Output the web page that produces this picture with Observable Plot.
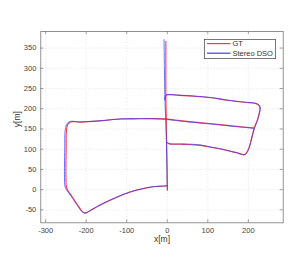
<!DOCTYPE html>
<html><head><meta charset="utf-8">
<script src="https://cdn.jsdelivr.net/npm/d3@7"></script>
<script src="https://cdn.jsdelivr.net/npm/@observablehq/plot@0.6"></script>
<style>
body{margin:0;background:#fff;font-family:"Liberation Sans",Arial,sans-serif}
#wrap{position:relative;width:305px;height:273px}
#legend{position:absolute;left:203.5px;top:39.3px}
</style></head><body><div id="wrap"></div><script>
const seriesNames = ["GT", "Stereo DSO"];
const seriesColors = ["#ff3c3c", "#3c3cff"];
const xTicks = [-300, -200, -100, 0, 100, 200];
const yTicks = [-50, 0, 50, 100, 150, 200, 250, 300, 350];
const xDomain = [-312, 286];
const yDomain = [-82, 391];

// Ground truth trajectory, segments
const gtSeg = [
  0,0,0,0,0,0,0,0,
  1,1,1,1,1,1,1,1,1,1,1,1,1,1,1,1,1,1,1,1,1,1,1,1,1,1,
  2,2,2,2,2,2,2,
  3,3,3,3,3,3,3,3,3,3,3,3,3,3,3,3,3,3,3,3,3,3,3,3,3,3,3,3
];
const gtX = [
  0, 0, -0.5, -1.5, -2.5, -3.5, -3.5, -3.5,
  -1, -6, -20, -41, -65, -91, -124, -165, -195, -202, -209, -217, -235, -246, -249, -250, -249.5, -248.5, -245, -239, -215, -165, -115, -82, -40, -3,
  -3, 20, 66, 110, 148, 182, 214,
  -5, -4, 1, 30, 66, 110, 148, 190, 218, 225, 228.5, 227, 222, 214, 208, 202, 196.5, 191, 185, 172, 150, 132, 110, 82, 40, 5, 0, -1.5
];
const gtY = [
  -1, 10, 60, 113, 175, 232, 300, 367,
  10, 9, 8, 6, 1, -6, -19, -38, -55, -58, -55, -44, -17, -1, 8, 30, 100, 148, 162, 167.5, 167, 170, 174.5, 175, 175.5, 175,
  175, 172, 167, 163, 159, 155.5, 152,
  222, 231, 234.5, 233, 231, 227, 221, 216, 213, 209, 203, 190, 172, 151, 128, 105, 93, 87, 87, 91, 96, 100.5, 104, 109.5, 112, 113, 116, 116
];

// Stereo DSO estimate, segments
const dsoSeg = [
  0,0,0,0,0,0,0,0,
  1,1,1,1,1,1,1,1,1,1,1,1,1,1,1,1,1,1,1,1,1,1,1,1,1,1,
  2,2,2,2,2,2,2,
  3,3,3,3,3,3,3,3,3,3,3,3,3,3,3,3,3,3,3,3,3,3,3,3,3,3,3,3
];
const dsoX = [
  0.5, 0, -1, -2, -4, -6, -7, -8,
  -1, -6, -20, -42, -66, -92, -125, -166, -197, -203, -210, -219, -238, -249, -252.5, -253.5, -253, -251.5, -247, -240, -215, -165, -115, -82, -40, -4,
  -4, 20, 66, 110, 148, 182, 213,
  -6, -5, 0, 30, 66, 110, 148, 190, 218, 226, 229.5, 228, 223, 215, 209, 203, 197.5, 192, 186, 172, 150, 132, 110, 82, 40, 5, 0, -2
];
const dsoY = [
  -1, 10, 60, 113, 175, 232, 300, 371,
  10, 9, 8.5, 6.5, 1.5, -5.5, -18.5, -37.5, -55.5, -58, -54.5, -43.5, -15, 0, 9, 30, 100, 149, 163, 168.5, 167.5, 170.5, 175, 175.5, 175.5, 174,
  174, 171, 166, 162, 158, 154.5, 152,
  222, 232, 235, 233.5, 231.5, 227.5, 221.5, 216.5, 213.5, 210, 204, 191, 172, 151, 128, 105, 92.5, 86.5, 86.5, 91, 96.5, 101, 105, 110.5, 113, 114, 117, 117
];

const gtRows = gtX.map((x, i) => ({x, y: gtY[i], seg: gtSeg[i]}));
const dsoRows = dsoX.map((x, i) => ({x, y: dsoY[i], seg: dsoSeg[i]}));

const tickLenX = (yDomain[1] - yDomain[0]) * 3 / 191;
const tickLenY = (xDomain[1] - xDomain[0]) * 3 / 242;
const fmt = d => String(d);

const chart = Plot.plot({
  width: 305,
  height: 273,
  marginLeft: 40.3,
  marginRight: 22.3,
  marginTop: 31,
  marginBottom: 50.7,
  x: {domain: xDomain},
  y: {domain: yDomain},
  style: {fontFamily: "Liberation Sans, Arial, sans-serif", fontSize: "7.5px", color: "#444", background: "#fff"},
  marks: [
    Plot.ruleX(xTicks, {x: d => d, stroke: "#d6d6d6", strokeWidth: 0.6, strokeDasharray: "1,1.8"}),
    Plot.ruleY(yTicks, {y: d => d, stroke: "#d6d6d6", strokeWidth: 0.6, strokeDasharray: "1,1.8"}),
    Plot.ruleX(xTicks, {x: d => d, y1: yDomain[0], y2: yDomain[0] + tickLenX, stroke: "#777", strokeWidth: 0.7}),
    Plot.ruleX(xTicks, {x: d => d, y1: yDomain[1], y2: yDomain[1] - tickLenX, stroke: "#777", strokeWidth: 0.7}),
    Plot.ruleY(yTicks, {y: d => d, x1: xDomain[0], x2: xDomain[0] + tickLenY, stroke: "#777", strokeWidth: 0.7}),
    Plot.ruleY(yTicks, {y: d => d, x1: xDomain[1], x2: xDomain[1] - tickLenY, stroke: "#777", strokeWidth: 0.7}),
    Plot.axisX(xTicks, {tickSize: 0, tickPadding: 4.5, tickFormat: fmt, label: null, fill: "#444"}),
    Plot.axisY(yTicks, {tickSize: 0, tickPadding: 4.5, tickFormat: fmt, label: null, fill: "#444"}),
    Plot.line(gtRows, {x: "x", y: "y", z: "seg", stroke: seriesColors[0], strokeWidth: 1.1, curve: "catmull-rom"}),
    Plot.line(dsoRows, {x: "x", y: "y", z: "seg", stroke: seriesColors[1], strokeWidth: 1.0, strokeOpacity: 0.75, curve: "catmull-rom"}),
    Plot.frame({stroke: "#777", strokeWidth: 0.8}),
    Plot.text(["x[m]"], {frameAnchor: "bottom", dy: 19.5, fontSize: 8.5, fill: "#333"}),
    Plot.text(["y[m]"], {frameAnchor: "left", dx: -24, rotate: -90, fontSize: 8.5, fill: "#333"})
  ]
});

const wrap = document.getElementById("wrap");
wrap.appendChild(chart);

// legend as a small inline svg
const lw = 72, lh = 20;
const leg = d3.create("svg").attr("id", "legend").attr("width", lw).attr("height", lh)
  .style("font-family", "Liberation Sans, Arial, sans-serif").style("font-size", "7.5px");
leg.append("rect").attr("x", 0.4).attr("y", 0.4).attr("width", lw - 0.8).attr("height", lh - 0.8)
  .attr("fill", "#fff").attr("stroke", "#555").attr("stroke-width", 0.8);
const rows = leg.selectAll("g").data(seriesNames).join("g")
  .attr("transform", (d, i) => `translate(0,${4.6 + i * 9.6})`);
rows.append("line").attr("x1", 3).attr("x2", 26.5).attr("y1", 0).attr("y2", 0)
  .attr("stroke", (d, i) => seriesColors[i]).attr("stroke-width", 1.2);
rows.append("text").attr("x", 28.5).attr("y", 0).attr("dy", "0.35em").attr("fill", "#333").text(d => d);
wrap.appendChild(leg.node());
</script></body></html>
